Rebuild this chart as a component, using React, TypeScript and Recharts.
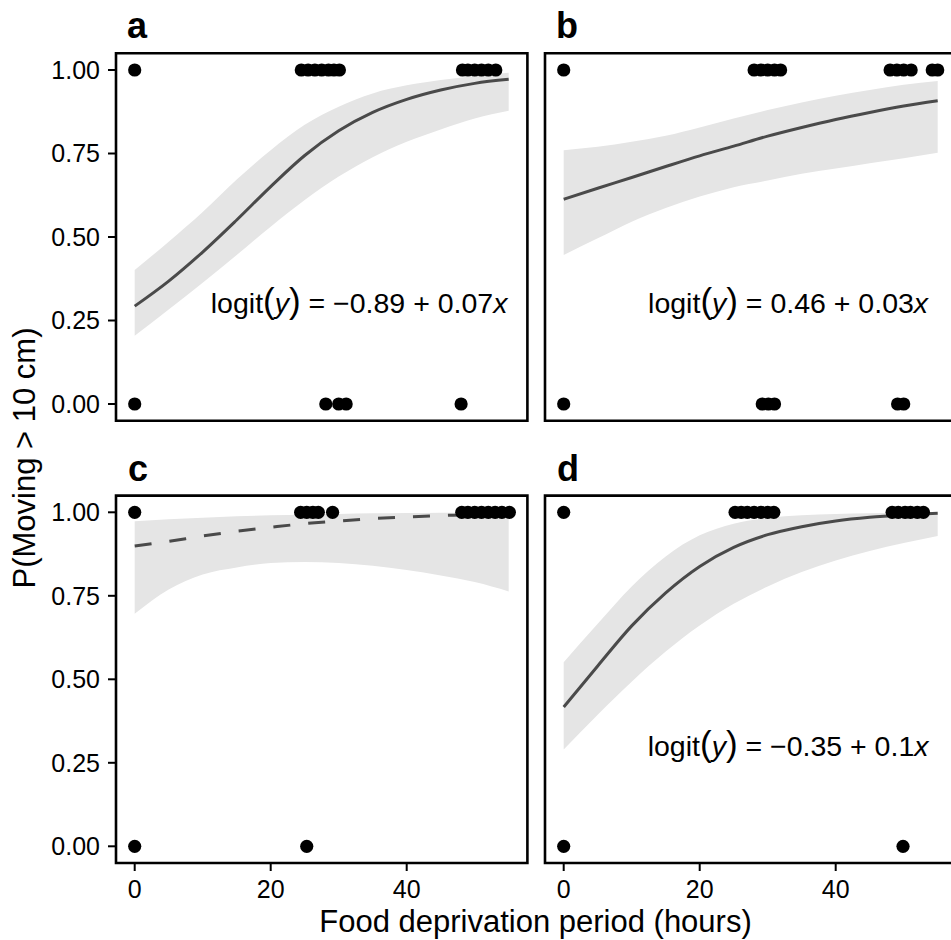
import React from 'react';
import { ComposedChart, Area, Line, Scatter, XAxis, YAxis, ReferenceArea, ReferenceDot } from 'recharts';

const HOURS = [0, 5, 10, 15, 20, 25, 30, 35, 40, 45, 50, 55];

// panel a
const FIT_A = [0.293, 0.368, 0.455, 0.551, 0.651, 0.744, 0.818, 0.873, 0.912, 0.94, 0.96, 0.972];
const LOW_A = [0.204, 0.283, 0.363, 0.446, 0.531, 0.611, 0.681, 0.739, 0.785, 0.822, 0.855, 0.878];
const HIGH_A = [0.401, 0.486, 0.575, 0.672, 0.76, 0.836, 0.89, 0.93, 0.954, 0.97, 0.982, 0.992];
const MOVED_A = [0, 24.5, 25.5, 26.5, 27.5, 28.5, 29.3, 30.1, 48.2, 49, 50, 51, 52, 53.1];
const STILL_A = [0, 28.1, 30, 31.1, 48];

// panel b
const FIT_B = [0.613, 0.646, 0.678, 0.711, 0.743, 0.772, 0.802, 0.828, 0.852, 0.873, 0.892, 0.908];
const LOW_B = [0.446, 0.496, 0.546, 0.587, 0.621, 0.649, 0.669, 0.689, 0.705, 0.721, 0.736, 0.752];
const HIGH_B = [0.76, 0.77, 0.785, 0.803, 0.828, 0.855, 0.88, 0.903, 0.923, 0.94, 0.956, 0.967];
const MOVED_B = [0, 28, 29, 30, 31, 31.9, 48, 49, 50, 51.1, 54.2, 55];
const STILL_B = [0, 29.2, 30.1, 31, 49.1, 50];

// panel c (non-significant fit, dashed)
const FIT_C = [0.899, 0.913, 0.929, 0.943, 0.955, 0.966, 0.974, 0.981, 0.986, 0.99, 0.994, 0.997];
const LOW_C = [0.696, 0.769, 0.814, 0.835, 0.848, 0.851, 0.848, 0.84, 0.827, 0.811, 0.791, 0.763];
const HIGH_C = [0.973, 0.979, 0.984, 0.988, 0.991, 0.993, 0.995, 0.997, 0.998, 0.999, 0.999, 1.0];
const MOVED_C = [0, 24.4, 25.3, 26.2, 27, 29.1, 48.1, 49, 50, 51, 52, 53, 54, 55.1];
const STILL_C = [0, 25.3];

// panel d
const FIT_D = [0.417, 0.54, 0.66, 0.759, 0.838, 0.895, 0.933, 0.957, 0.974, 0.985, 0.992, 0.997];
const LOW_D = [0.29, 0.394, 0.493, 0.583, 0.661, 0.726, 0.778, 0.821, 0.856, 0.884, 0.908, 0.929];
const HIGH_D = [0.551, 0.666, 0.778, 0.868, 0.931, 0.966, 0.983, 0.991, 0.995, 0.997, 0.999, 1.0];
const MOVED_D = [0, 25.2, 26.1, 27, 28, 29, 30, 30.9, 48.3, 49.2, 50.2, 51, 52, 52.9];
const STILL_D = [0, 49.9];

const X_TICKS = [0, 20, 40];
const Y_TICKS = [0, 0.25, 0.5, 0.75, 1];
const X_DOMAIN = [-2.75, 57.75];
const Y_DOMAIN = [-0.05, 1.05];

const FONT = '"Liberation Sans", Arial, Helvetica, sans-serif';
const TICK_SIZE = 25;

const PANELS = [
  { tag: 'a', fit: FIT_A, low: LOW_A, high: HIGH_A, moved: MOVED_A, still: STILL_A, eq: ['\u22120.89', '0.07'], dashed: false, col: 0, row: 0 },
  { tag: 'b', fit: FIT_B, low: LOW_B, high: HIGH_B, moved: MOVED_B, still: STILL_B, eq: ['0.46', '0.03'], dashed: false, col: 1, row: 0 },
  { tag: 'c', fit: FIT_C, low: LOW_C, high: HIGH_C, moved: MOVED_C, still: STILL_C, eq: null, dashed: true, col: 0, row: 1 },
  { tag: 'd', fit: FIT_D, low: LOW_D, high: HIGH_D, moved: MOVED_D, still: STILL_D, eq: ['\u22120.35', '0.1'], dashed: false, col: 1, row: 1 },
];

const PLOT_W = 411.4;
const PLOT_H = 367.4;

const dotShape = (props: any) => <circle cx={props.cx} cy={props.cy} r={6.6} fill="#000" />;

const xTick = (props: any) => (
  <text x={props.x} y={props.y} dy="0.71em" textAnchor="middle" fontSize={TICK_SIZE} fill="#000" fontFamily={FONT}>
    {props.payload.value}
  </text>
);

const yTick = (props: any) => (
  <text x={props.x} y={props.y} dy="0.355em" textAnchor="end" fontSize={TICK_SIZE} fill="#000" fontFamily={FONT}>
    {Number(props.payload.value).toFixed(2)}
  </text>
);

const equation = (eq: string[]) => (props: any) => {
  const vb = props.viewBox || {};
  const x = (vb.x ?? 0) + (vb.width ?? 0) / 2;
  const y = (vb.y ?? 0) + (vb.height ?? 0) / 2;
  return (
    <text x={x} y={y + 9.5} textAnchor="middle" fontSize={28.5} fill="#000" fontFamily={FONT}>
      <tspan>logit</tspan>
      <tspan fontSize={35}>(</tspan>
      <tspan fontStyle="italic">y</tspan>
      <tspan fontSize={35}>)</tspan>
      <tspan>{` = ${eq[0]} + ${eq[1]}`}</tspan>
      <tspan fontStyle="italic">x</tspan>
    </text>
  );
};

const Panel = ({ p }: { p: any }) => {
  const band = HOURS.map((x, i) => ({ x, band: [p.low[i], p.high[i]] }));
  const fit = HOURS.map((x, i) => ({ x, y: p.fit[i] }));
  const pts = [...p.moved.map((x: number) => ({ x, y: 1 })), ...p.still.map((x: number) => ({ x, y: 0 }))];
  const showY = p.col === 0;
  const showX = p.row === 1;
  const width = showY ? 540 : 430;
  const height = showX ? 480 : 430;
  const marginLeft = showY ? 0 : 15;
  const marginTop = showX ? 55.6 : 53.3;
  const axisH = showX ? 40 : 0;
  const margin = {
    top: marginTop,
    left: marginLeft,
    right: width - marginLeft - (showY ? 116 : 0) - PLOT_W,
    bottom: height - marginTop - PLOT_H - axisH,
  };

  return (
    <div style={{ position: 'absolute', left: p.col === 0 ? 0 : 530, top: p.row === 0 ? 0 : 440 }}>
      <ComposedChart width={width} height={height} margin={margin}>
        <XAxis
          type="number"
          dataKey="x"
          domain={X_DOMAIN}
          ticks={X_TICKS}
          hide={!showX}
          height={axisH}
          axisLine={false}
          tickSize={8}
          tickMargin={9}
          tickLine={{ stroke: '#000', strokeWidth: 2 }}
          tick={xTick}
        />
        <YAxis
          type="number"
          dataKey="y"
          domain={Y_DOMAIN}
          ticks={Y_TICKS}
          hide={!showY}
          width={showY ? 116 : 0}
          axisLine={false}
          tickSize={8}
          tickMargin={8}
          tickLine={{ stroke: '#000', strokeWidth: 2 }}
          tick={yTick}
        />
        <Area data={band} dataKey="band" type="monotone" stroke="none" fill="#e5e5e5" fillOpacity={1} isAnimationActive={false} />
        <Scatter data={pts} shape={dotShape} isAnimationActive={false} />
        <Line
          data={fit}
          dataKey="y"
          type="monotone"
          stroke="#4a4a4a"
          strokeWidth={3}
          strokeDasharray={p.dashed ? '17 18' : undefined}
          dot={false}
          isAnimationActive={false}
        />
        <ReferenceArea
          x1={X_DOMAIN[0]}
          x2={X_DOMAIN[1]}
          y1={Y_DOMAIN[0]}
          y2={Y_DOMAIN[1]}
          fill="none"
          fillOpacity={0}
          stroke="#000"
          strokeWidth={2.6}
          strokeOpacity={1}
          ifOverflow="visible"
        />
        {p.eq && (
          <ReferenceDot x={33} y={0.3} r={1} fill="none" stroke="none" ifOverflow="visible" label={equation(p.eq)} />
        )}
      </ComposedChart>
    </div>
  );
};

export default function App() {
  return (
    <div style={{ position: 'relative', width: 951, height: 940, overflow: 'hidden', background: '#fff', fontFamily: FONT }}>
      <style>{'body{margin:0}'}</style>
      {PANELS.map((p) => (
        <Panel key={p.tag} p={p} />
      ))}
      <svg width={951} height={940} style={{ position: 'absolute', left: 0, top: 0, pointerEvents: 'none' }} fontFamily={FONT}>
        <text x={127} y={38} fontSize={36} fontWeight="bold" fill="#000">a</text>
        <text x={556} y={38} fontSize={36} fontWeight="bold" fill="#000">b</text>
        <text x={128} y={481} fontSize={36} fontWeight="bold" fill="#000">c</text>
        <text x={557} y={481} fontSize={36} fontWeight="bold" fill="#000">d</text>
        <text x={535.5} y={932} fontSize={31} textAnchor="middle" fill="#000">Food deprivation period (hours)</text>
        <text transform="translate(35,458) rotate(-90)" fontSize={31} textAnchor="middle" fill="#000">P(Moving &gt; 10 cm)</text>
      </svg>
    </div>
  );
}
